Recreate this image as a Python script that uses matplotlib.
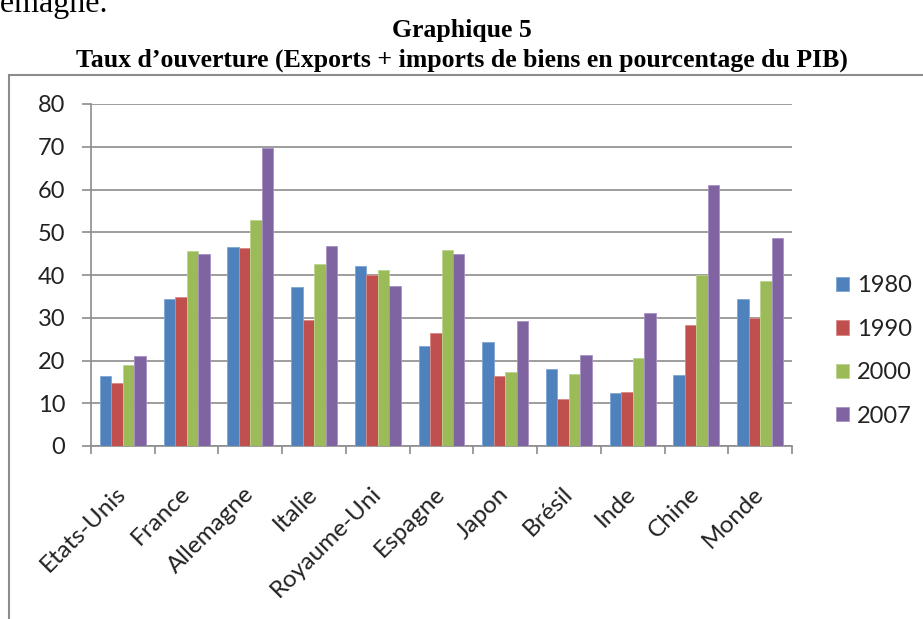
import matplotlib
matplotlib.use("Agg")
import matplotlib.pyplot as plt
import numpy as np
from matplotlib.patches import Rectangle

categories = ["Etats-Unis", "France", "Allemagne", "Italie", "Royaume-Uni", "Espagne",
              "Japon", "Brésil", "Inde", "Chine", "Monde"]
years = ["1980", "1990", "2000", "2007"]
v1980 = [16.3, 34.5, 46.5, 37.2, 42.0, 23.5, 24.3, 18.0, 12.3, 16.5, 34.3]
v1990 = [14.8, 34.8, 46.2, 29.5, 40.1, 26.4, 16.3, 11.1, 12.6, 28.3, 30.0]
v2000 = [18.9, 45.6, 52.8, 42.6, 41.1, 45.9, 17.4, 16.9, 20.5, 40.1, 38.7]
v2007 = [21.0, 45.0, 69.6, 46.8, 37.5, 45.0, 29.2, 21.4, 31.0, 61.0, 48.6]
yticks = [0, 10, 20, 30, 40, 50, 60, 70, 80]

series = [v1980, v1990, v2000, v2007]
colors = ["#4F81BD", "#C0504D", "#9BBB59", "#8064A2"]
edges = ["#7FA6D6", "#D98784", "#BCD48C", "#A792C4"]

W, H = 923, 619
fig = plt.figure(figsize=(W / 100, H / 100), dpi=100)
font = ["Lato", "DejaVu Sans"]
plt.rcParams["font.family"] = font

# outer chart frame
fig.patches.append(Rectangle((9 / W, -0.1), 1.2, (H - 75) / H + 0.1, transform=fig.transFigure,
                             fill=False, edgecolor="#8C8C8C", linewidth=1.5))

# titles and cut text from the surrounding page
fig.text(108 / W, 1 - 12 / H, "Allemagne.", family="Liberation Serif", fontsize=23,
         ha="right", va="baseline", color="black")
fig.text(462 / W, 1 - 37 / H, "Graphique 5", family="Liberation Serif", fontweight="bold",
         fontsize=18.5, ha="center", va="baseline")
fig.text(462 / W, 1 - 67 / H, "Taux d\u2019ouverture (Exports + imports de biens en pourcentage du PIB)",
         family="Liberation Serif", fontweight="bold", fontsize=18.5, ha="center", va="baseline")

left, right, top, bottom = 91, 792, 104, 446
ax = fig.add_axes([left / W, 1 - bottom / H, (right - left) / W, (bottom - top) / H])

x = np.arange(len(categories))
bw = 0.18
for i, (vals, c, e, yr) in enumerate(zip(series, colors, edges, years)):
    ax.bar(x + (i - 1.5) * bw, vals, width=bw, color=c, edgecolor=e, linewidth=0.6,
           label=yr, zorder=3)

ax.set_xlim(-0.5, len(categories) - 0.5)
ax.set_ylim(0, 80)
ax.set_yticks(yticks)
ax.set_yticklabels([str(t) for t in yticks], fontsize=17, color="#222222")
ax.yaxis.grid(True, color="#8C8C8C", linewidth=1.2, zorder=0)
ax.set_axisbelow(True)

ax.set_xticks(x)
ax.set_xticklabels(categories, rotation=45, ha="right", va="center",
                   rotation_mode="anchor", fontsize=17.5, color="#222222")
ax.tick_params(axis="x", length=0, pad=32)
ax.set_xticks(np.arange(len(categories) + 1) - 0.5, minor=True)
ax.tick_params(axis="x", which="minor", length=6, width=1.2, color="#8C8C8C", direction="out")
ax.tick_params(axis="y", length=6.5, width=1.2, color="#8C8C8C", direction="out", pad=12)

for s in ["top", "right"]:
    ax.spines[s].set_visible(False)
for s in ["left", "bottom"]:
    ax.spines[s].set_color("#8C8C8C")
    ax.spines[s].set_linewidth(1.2)

leg = fig.legend(handles=ax.containers, labels=years, loc="center left",
                 bbox_to_anchor=(836 / W, 1 - 351 / H), frameon=False, fontsize=17,
                 borderpad=0, borderaxespad=0,
                 handlelength=0.55, handleheight=0.55, handletextpad=0.35, labelspacing=0.95)
for t in leg.get_texts():
    t.set_color("#222222")

fig.savefig("out.png", dpi=100)
